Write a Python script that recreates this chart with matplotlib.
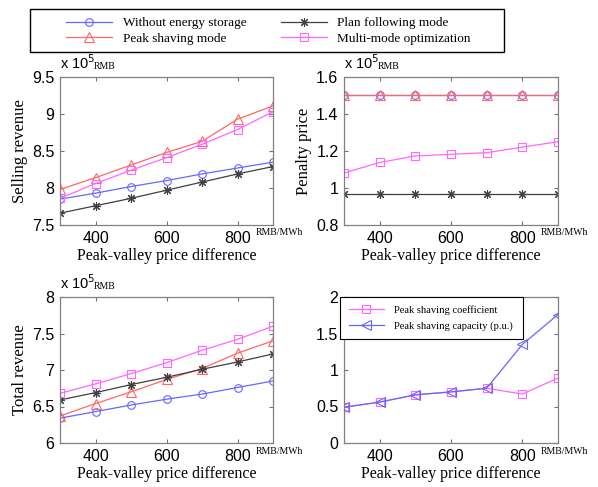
"""Revenue comparison of energy storage operating modes vs peak-valley price difference."""

import matplotlib
matplotlib.use("Agg")
import matplotlib.pyplot as plt
from matplotlib.patches import Rectangle

price_diff = [300, 400, 500, 600, 700, 800, 900]

# selling revenue, x 1e5 RMB
sell_without = [7.85, 7.93, 8.02, 8.10, 8.19, 8.27, 8.35]
sell_peak = [7.98, 8.14, 8.31, 8.48, 8.63, 8.93, 9.11]
sell_plan = [7.66, 7.76, 7.86, 7.97, 8.08, 8.19, 8.29]
sell_multi = [7.86, 8.06, 8.24, 8.41, 8.59, 8.79, 9.03]

# penalty price, x 1e5 RMB
pen_without = [1.505] * 7
pen_peak = [1.505] * 7
pen_plan = [0.965] * 7
pen_multi = [1.081, 1.138, 1.173, 1.182, 1.191, 1.221, 1.250]

# total revenue, x 1e5 RMB
tot_without = [6.34, 6.43, 6.52, 6.60, 6.67, 6.76, 6.85]
tot_peak = [6.37, 6.54, 6.70, 6.87, 7.02, 7.23, 7.40]
tot_plan = [6.59, 6.69, 6.80, 6.90, 7.01, 7.11, 7.22]
tot_multi = [6.68, 6.81, 6.95, 7.10, 7.27, 7.42, 7.60]

# peak shaving indicators
shave_coef = [0.49, 0.56, 0.66, 0.70, 0.75, 0.67, 0.89]
shave_cap = [0.49, 0.56, 0.66, 0.70, 0.75, 1.35, 1.76]

labels = ["Without energy storage", "Peak shaving mode",
          "Plan following mode", "Multi-mode optimization"]

BLUE = (0.4, 0.4, 1.0)
RED = (1.0, 0.4, 0.4)
BLACK = (0.25, 0.25, 0.25)
MAGENTA = (1.0, 0.4, 1.0)
SERIF = "Liberation Serif"
SANS = "Liberation Sans"
ASTERISK = (8, 2, 0)

styles = [
    dict(color=BLUE, marker="o", ms=5.5),
    dict(color=RED, marker="^", ms=6.5),
    dict(color=BLACK, marker=ASTERISK, ms=6.5),
    dict(color=MAGENTA, marker="s", ms=5.5),
]

W, H = 598, 487
fig = plt.figure(figsize=(W / 100, H / 100), dpi=100)


def _fx(x):
    return x / W


def _fy(y):
    return 1 - y / H


def _axes(l, r, t, b):
    return fig.add_axes([_fx(l), _fy(b), (r - l) / W, (b - t) / H])


def _style_axes(ax, box, ylim, yticks, ylabel, show_offset=True):
    l, r, t, b = box
    ax.set_xlim(300, 900)
    ax.set_xticks([400, 600, 800])
    ax.set_ylim(*ylim)
    ax.set_yticks(yticks)
    ax.set_yticklabels([f"{v:g}" for v in yticks], fontfamily=SANS, fontsize=11.5)
    ax.set_xticklabels(["400", "600", "800"], fontfamily=SANS, fontsize=11.5)
    ax.tick_params(direction="in", top=True, right=True, length=3,
                   color="0.45", pad=4)
    for s in ax.spines.values():
        s.set_color("0.5")
        s.set_linewidth(0.9)
    ax.set_xlabel("Peak-valley price difference", fontfamily=SERIF,
                  fontsize=11.5, labelpad=2)
    if ylabel:
        ax.set_ylabel(ylabel, fontfamily=SERIF, fontsize=12, labelpad=3)
    fig.text(_fx(r - 17), _fy(b + 8), "RMB/MWh", fontfamily=SERIF,
             fontsize=7, ha="left", va="center")
    if show_offset:
        fig.text(_fx(l), _fy(t - 8), r"x 10$^5$", fontfamily=SANS,
                 fontsize=10.5, ha="left", va="baseline")
        fig.text(_fx(l + 34), _fy(t - 8), "RMB", fontfamily=SERIF,
                 fontsize=7, ha="left", va="baseline")


def _lines(ax, series):
    handles = []
    for y, st, lab in zip(series, styles, labels):
        h, = ax.plot(price_diff, y, color=st["color"], marker=st["marker"],
                     markersize=st["ms"], markerfacecolor="none",
                     markeredgecolor=st["color"], markeredgewidth=0.8,
                     linewidth=0.9, label=lab)
        handles.append(h)
    return handles


box1 = (60, 273, 77, 225)
box2 = (344, 558, 77, 225)
box3 = (60, 273, 297, 443)
box4 = (344, 558, 297, 443)
ax1 = _axes(*box1)
ax2 = _axes(*box2)
ax3 = _axes(*box3)
ax4 = _axes(*box4)

handles = _lines(ax1, [sell_without, sell_peak, sell_plan, sell_multi])
_style_axes(ax1, box1, (7.5, 9.5), [7.5, 8, 8.5, 9, 9.5], "Selling revenue")

_lines(ax2, [pen_without, pen_peak, pen_plan, pen_multi])
_style_axes(ax2, box2, (0.8, 1.6), [0.8, 1.0, 1.2, 1.4, 1.6], "Penalty price")

_lines(ax3, [tot_without, tot_peak, tot_plan, tot_multi])
_style_axes(ax3, box3, (6, 8), [6, 6.5, 7, 7.5, 8], "Total revenue")

ax4.plot(price_diff, shave_coef, color=MAGENTA, marker="s", markersize=6,
         markerfacecolor="none", markeredgewidth=0.8, linewidth=0.9,
         label="Peak shaving coefficient")
ax4.plot(price_diff, shave_cap, color=BLUE, marker="<", markersize=6.5,
         markerfacecolor="none", markeredgewidth=0.8, linewidth=0.9,
         label="Peak shaving capacity (p.u.)")
_style_axes(ax4, box4, (0, 2), [0, 0.5, 1, 1.5, 2], None, show_offset=False)

# inner legend of the peak shaving panel
fig.patches.append(Rectangle((_fx(340), _fy(339)), 183 / W, 42 / H,
                             transform=fig.transFigure, facecolor="white",
                             edgecolor="black", linewidth=0.8, zorder=5))
leg4 = fig.legend(*ax4.get_legend_handles_labels(), loc="upper left",
                  bbox_to_anchor=(_fx(349), _fy(305)),
                  prop=dict(family=SERIF, size=7.6), frameon=False,
                  handlelength=3.3, handletextpad=1.0, borderpad=0,
                  borderaxespad=0, labelspacing=0.6)
leg4.set_zorder(6)

# shared legend on top
fig.patches.append(Rectangle((_fx(30), _fy(52)), 474 / W, 43 / H,
                             transform=fig.transFigure, fill=False,
                             edgecolor="black", linewidth=1.0))
leg = fig.legend(handles, labels, loc="upper left",
                 bbox_to_anchor=(_fx(66), _fy(17)), ncol=2,
                 prop=dict(family=SERIF, size=9.5), frameon=False,
                 handlelength=3.5, handletextpad=0.8, columnspacing=2.6,
                 borderpad=0, borderaxespad=0, labelspacing=0.25)

fig.savefig("out.png", dpi=100)
